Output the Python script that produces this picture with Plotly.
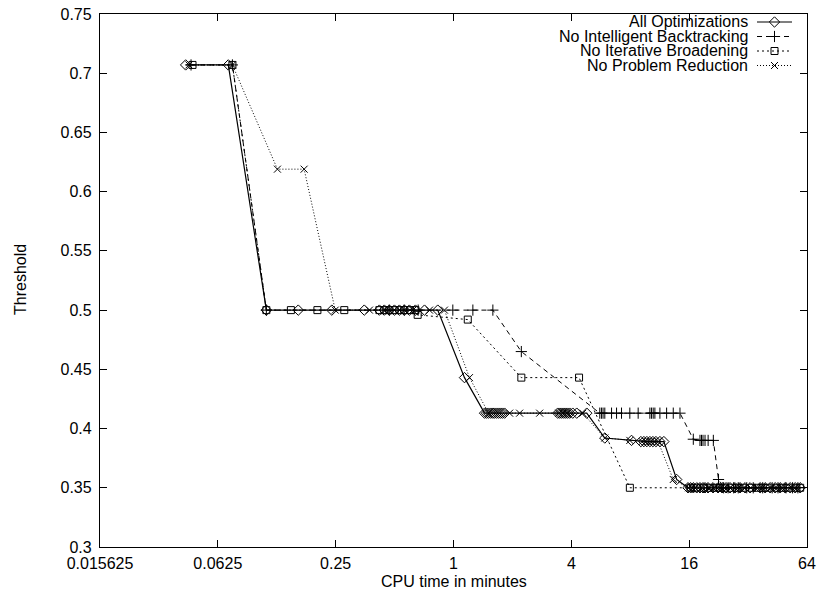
import math
import plotly.graph_objects as go

# ---------------- data (CPU time in minutes, threshold) ----------------
SERIES_NAMES = ["All Optimizations", "No Intelligent Backtracking",
                "No Iterative Broadening", "No Problem Reduction"]

x_all = [0.0428, 0.0707, 0.1106, 0.161, 0.239, 0.350, 0.418, 0.443, 0.47, 0.499,
         0.529, 0.561, 0.595, 0.639, 0.711, 0.831, 1.138, 1.441, 1.475, 1.51,
         1.55, 1.589, 1.62, 1.66, 1.70, 1.74, 1.78, 1.824, 3.408, 3.49,
         3.572, 3.66, 3.745, 3.83, 3.925, 4.067, 4.263, 4.796, 5.93, 8.122,
         9.063, 9.389, 9.727, 10.08, 10.44, 10.82, 11.34, 11.88, 13.81, 15.78,
         16.3, 16.8, 17.5, 18.17, 18.83, 19.28, 19.97, 21.19, 22.47, 23.56,
         24.69, 25.88, 27.46, 29.12, 30.89, 32.76, 36.86, 39.10, 41.47, 43.99,
         46.66, 49.49, 52.49, 55.68, 59.06]
y_all = ([0.707, 0.707]
         + [0.5] * 14
         + [0.443]
         + [0.413] * 21
         + [0.392, 0.39]
         + [0.389] * 8
         + [0.357]
         + [0.35] * 26)

x_nib = [0.0456, 0.0742, 0.1106, 0.47, 0.56, 0.66, 0.992, 1.256, 1.589, 2.221,
         5.59, 5.70, 5.81, 5.93, 6.42, 6.81, 7.22, 7.96, 8.78, 10.08,
         10.28, 10.48, 10.69, 11.34, 12.27, 13.27, 14.36, 16.8, 18.17, 18.5,
         18.83, 19.28, 20.0, 21.26, 22.6, 24.0, 25.3, 27.0, 28.5, 31.5,
         34.0, 38.0, 42.5, 45.5, 50.0, 54.0, 57.5]
y_nib = ([0.707, 0.707]
         + [0.5] * 7
         + [0.465]
         + [0.413] * 17
         + [0.391]
         + [0.39] * 6
         + [0.357]
         + [0.35] * 12)

x_nbr = [0.0464, 0.0742, 0.1106, 0.1476, 0.2017, 0.2767, 0.418, 0.443, 0.47, 0.50,
         0.53, 0.56, 0.60, 0.639, 0.656, 1.183, 2.221, 4.38, 7.962, 16.3,
         17.5, 19.0, 20.5, 22.0, 23.0, 24.2, 26.5, 28.2, 30.0, 33.5,
         35.8, 38.0, 40.2, 44.9, 48.0, 51.0, 56.5, 59.06]
y_nbr = ([0.707, 0.707]
         + [0.5] * 12
         + [0.496, 0.492, 0.443, 0.443]
         + [0.35] * 20)

x_npr = [0.0445, 0.0742, 0.126, 0.1725, 0.2487, 0.372, 0.45, 0.53, 0.62, 0.754,
         0.899, 1.207, 1.51, 1.935, 2.177, 2.756, 3.45, 3.62, 3.80, 4.576,
         5.93, 7.962, 9.2, 9.6, 10.2, 10.6, 11.1, 13.27, 15.9, 16.5,
         17.2, 18.5, 20.2, 21.5, 23.0, 24.2, 26.0, 28.5, 30.5, 33.0,
         35.5, 37.8, 42.0, 45.0, 47.5, 53.5, 57.0]
y_npr = ([0.707, 0.707, 0.619, 0.619]
         + [0.5] * 7
         + [0.443]
         + [0.413] * 8
         + [0.392, 0.39]
         + [0.389] * 5
         + [0.357]
         + [0.35] * 19)

X_TICK_VALUES = [0.015625, 0.0625, 0.25, 1, 4, 16, 64]
X_TICK_LABELS = ["0.015625", "0.0625", "0.25", "1", "4", "16", "64"]
Y_TICK_VALUES = [0.3, 0.35, 0.4, 0.45, 0.5, 0.55, 0.6, 0.65, 0.7, 0.75]
Y_TICK_LABELS = ["0.3", "0.35", "0.4", "0.45", "0.5", "0.55", "0.6", "0.65", "0.7", "0.75"]

# ---------------- styling ----------------
FONT = "Liberation Sans, Arial, Helvetica, sans-serif"
W, H = 820, 594
L, R, T, B = 100, 13, 14, 47
PW, PH = W - L - R, H - T - B

styles = [
    dict(symbol="diamond-open", size=8, dash="solid", width=1.2),
    dict(symbol="cross-thin-open", size=8, dash="5px,4px", width=1),
    dict(symbol="square-open", size=7, dash="2px,3px", width=1),
    dict(symbol="x-thin-open", size=7, dash="1px,2px", width=1),
]
data = [(x_all, y_all), (x_nib, y_nib), (x_nbr, y_nbr), (x_npr, y_npr)]

fig = go.Figure()
for name, (xs, ys), st in zip(SERIES_NAMES, data, styles):
    fig.add_trace(go.Scatter(
        x=xs, y=ys, mode="lines+markers", name=name, showlegend=False,
        line=dict(color="black", width=st["width"], dash=st["dash"]),
        marker=dict(symbol=st["symbol"], size=st["size"], color="black",
                    line=dict(color="black", width=1)),
        cliponaxis=False,
    ))

# ---------------- gnuplot-style key (top right), pixel positions ----------------
def px_x(p):
    return (p - L) / PW

def px_y(p):
    return (H - B - p) / PH

key_rows = [22, 36.5, 51, 65.5]
text_right = 750
line_x0, line_x1, mark_x = 757, 792, 774.5
for name, st, row in zip(SERIES_NAMES, styles, key_rows):
    fig.add_annotation(x=px_x(text_right), y=px_y(row), xref="paper", yref="paper",
                       text=name, showarrow=False, xanchor="right", yanchor="middle",
                       font=dict(family=FONT, size=16, color="black"))
    fig.add_trace(go.Scatter(
        x=[px_x(line_x0), px_x(line_x1)], y=[px_y(row)] * 2, xaxis="x2", yaxis="y2",
        mode="lines", showlegend=False, hoverinfo="skip",
        line=dict(color="black", width=st["width"], dash=st["dash"])))
    fig.add_trace(go.Scatter(
        x=[px_x(mark_x)], y=[px_y(row)], xaxis="x2", yaxis="y2",
        mode="markers", showlegend=False, hoverinfo="skip",
        marker=dict(symbol=st["symbol"], size=st["size"], color="black",
                    line=dict(color="black", width=1))))

# axis titles
fig.add_annotation(x=px_x(20), y=px_y(280), xref="paper", yref="paper", text="Threshold",
                   textangle=-90, showarrow=False, xanchor="center", yanchor="middle",
                   font=dict(family=FONT, size=16, color="black"))
fig.add_annotation(x=0.5, y=px_y(581), xref="paper", yref="paper",
                   text="CPU time in minutes", showarrow=False, xanchor="center",
                   yanchor="middle", font=dict(family=FONT, size=16, color="black"))

fig.update_layout(
    width=W, height=H,
    margin=dict(l=L, r=R, t=T, b=B, autoexpand=False),
    paper_bgcolor="white", plot_bgcolor="white",
    font=dict(family=FONT, size=16, color="black"),
    showlegend=False,
    xaxis=dict(type="log", range=[math.log10(2 ** -6), math.log10(2 ** 6)],
               tickvals=X_TICK_VALUES, ticktext=X_TICK_LABELS,
               ticks="inside", ticklen=7, tickwidth=1, tickcolor="black",
               showline=True, linecolor="black", linewidth=1.3, mirror="ticks",
               showgrid=False, zeroline=False, ticklabelstandoff=2,
               ticklabeloverflow="allow"),
    yaxis=dict(range=[0.3, 0.75], tickvals=Y_TICK_VALUES, ticktext=Y_TICK_LABELS,
               ticks="inside", ticklen=7, tickwidth=1, tickcolor="black",
               showline=True, linecolor="black", linewidth=1.3, mirror="ticks",
               showgrid=False, zeroline=False, ticklabelstandoff=4,
               ticklabeloverflow="allow"),
    xaxis2=dict(overlaying="x", range=[0, 1], visible=False, anchor="y2"),
    yaxis2=dict(overlaying="y", range=[0, 1], visible=False, anchor="x2"),
)

fig.write_html("out.html", config={"displayModeBar": False},
               post_script="document.body.style.margin='0';")
